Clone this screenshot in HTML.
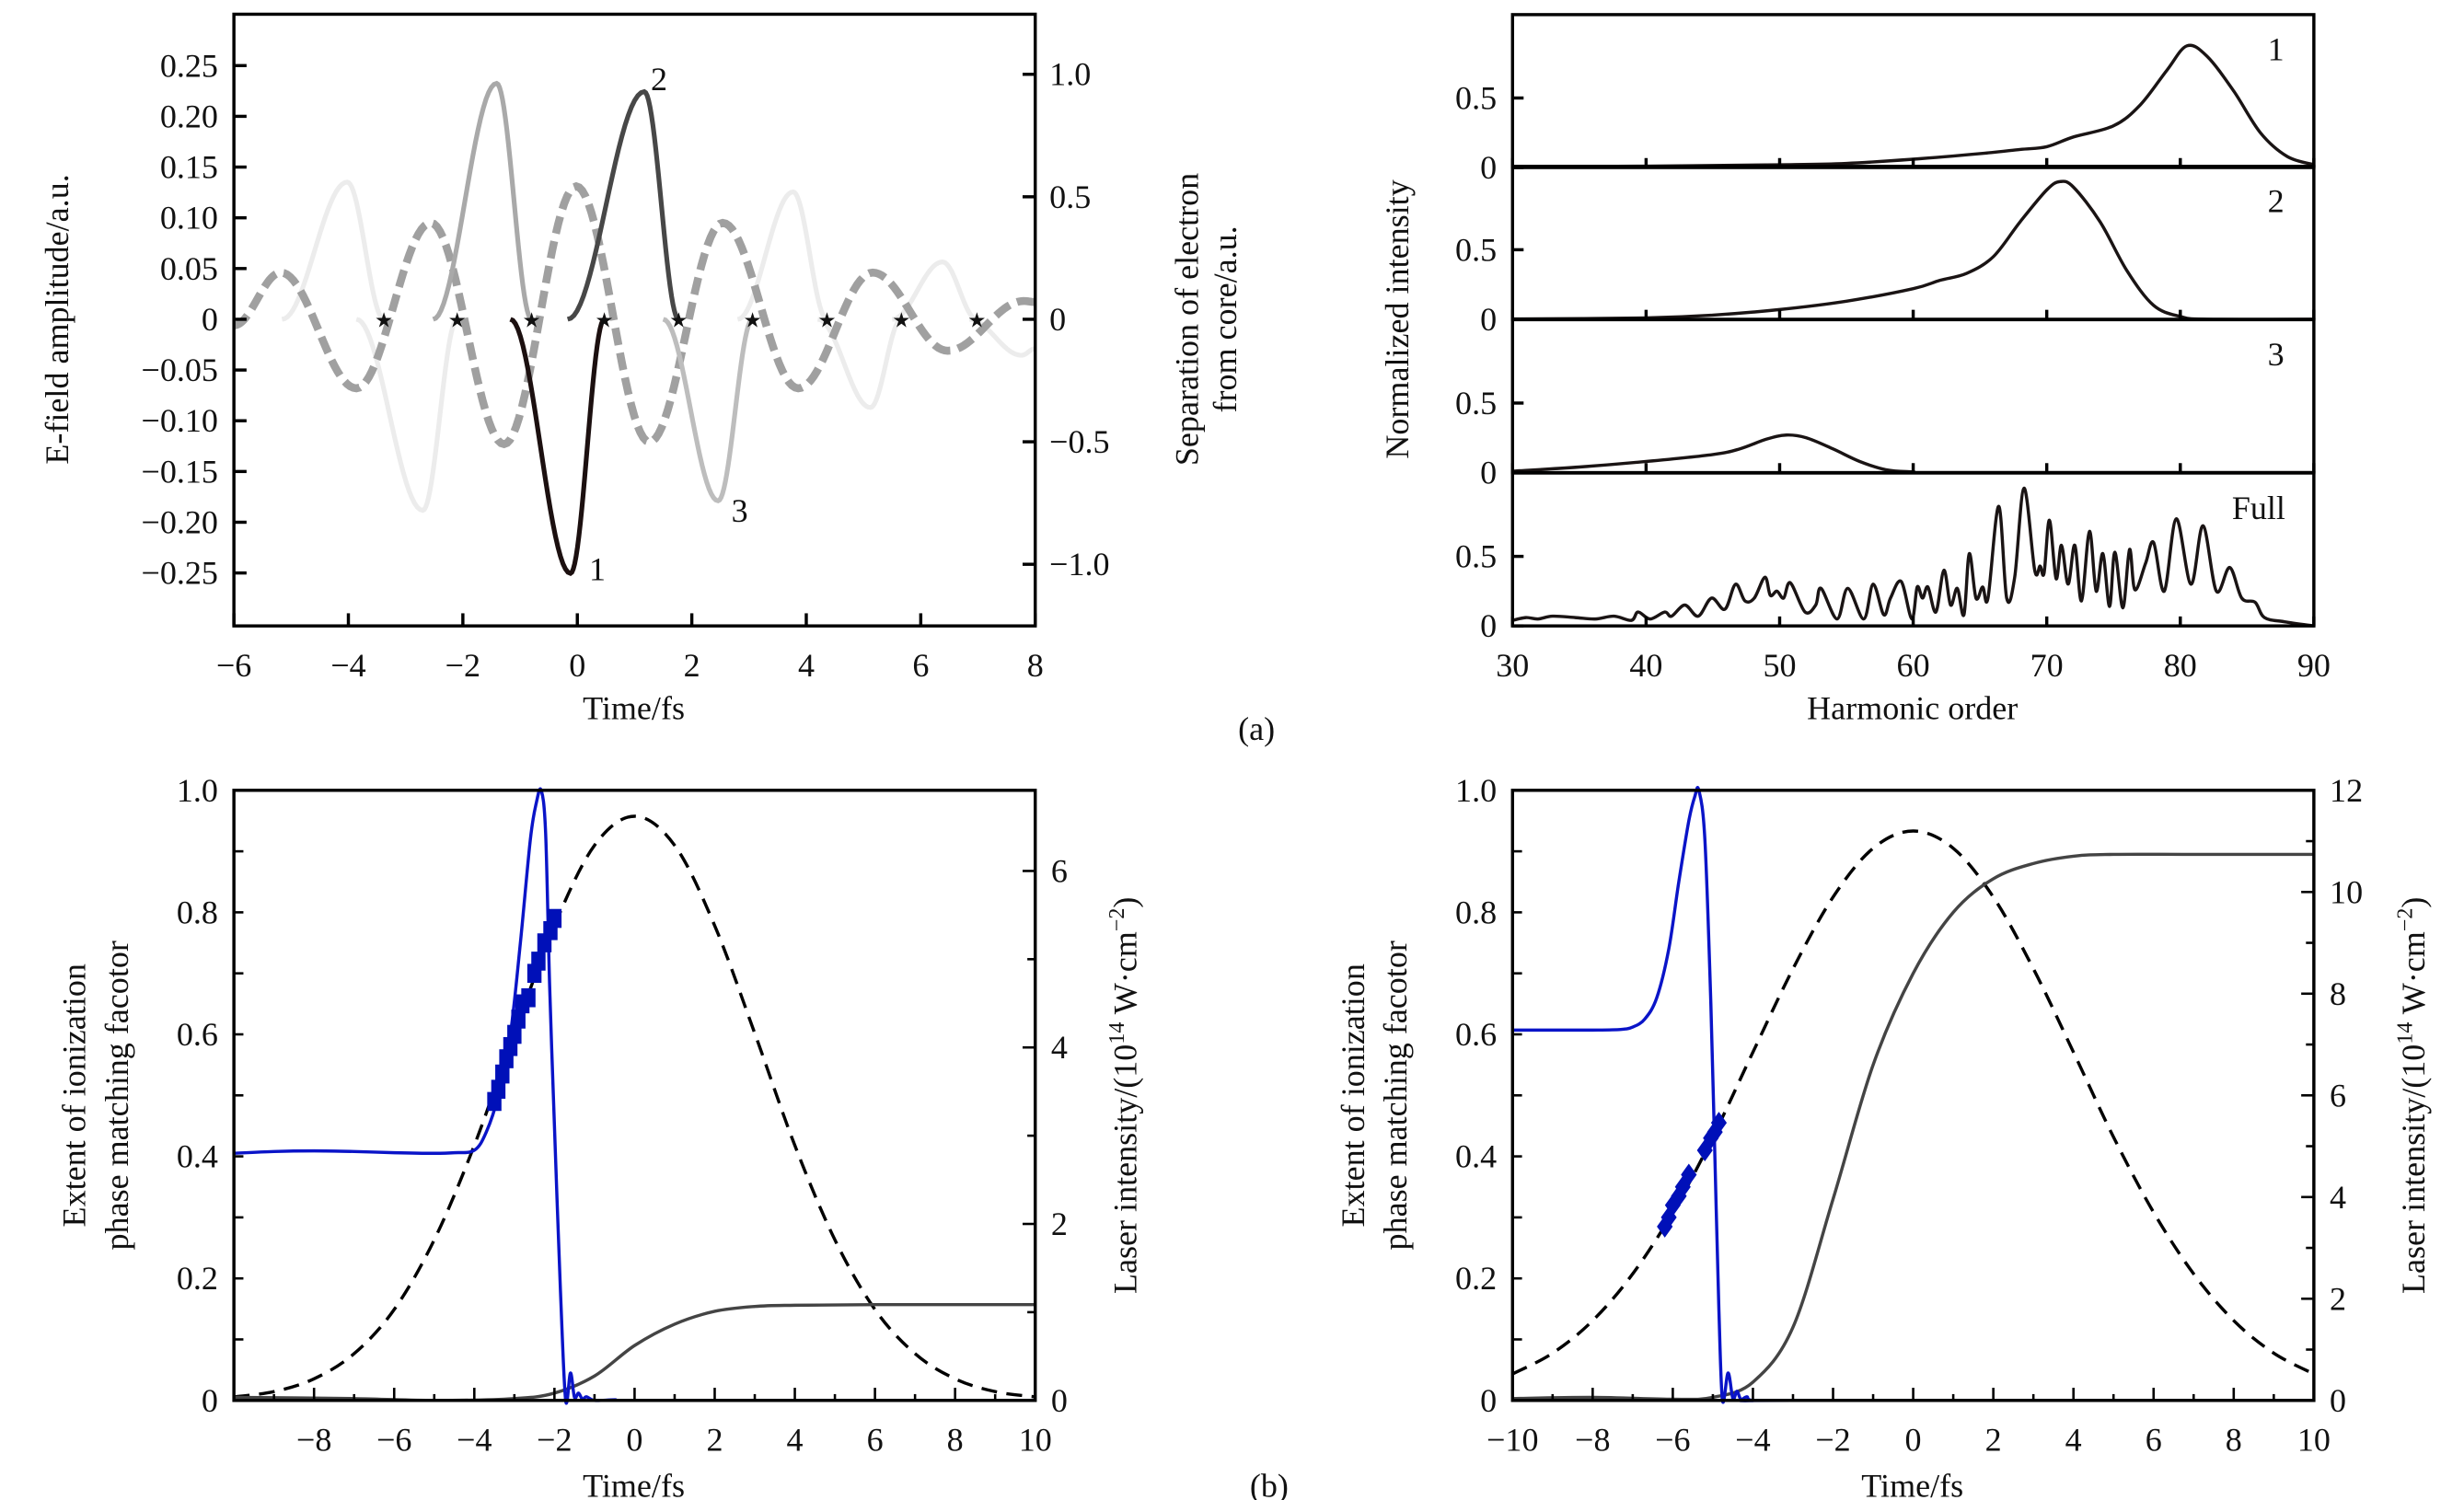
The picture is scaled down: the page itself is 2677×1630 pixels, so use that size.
<!DOCTYPE html>
<html><head><meta charset="utf-8">
<style>
html,body{margin:0;padding:0;background:#fff;}
svg{display:block;}
text{font-family:"Liberation Serif",serif;fill:#111;}
</style></head>
<body>
<svg id="chart" xmlns="http://www.w3.org/2000/svg" width="2677" height="1630" viewBox="0 0 1559 949" preserveAspectRatio="none">
<rect x="0" y="0" width="1559" height="949" fill="#fff"/>
<g id="static" font-size="21">
  <text transform="rotate(-90 43 202)" x="43" y="202" text-anchor="middle">E-field amplitude/a.u.</text>
  <text transform="rotate(-90 758 202)" x="758" y="202" text-anchor="middle">Separation of electron</text>
  <text transform="rotate(-90 782 202)" x="782" y="202" text-anchor="middle">from core/a.u.</text>
  <text x="401" y="455" text-anchor="middle">Time/fs</text>
  <text x="795" y="468" text-anchor="middle">(a)</text>
  <text transform="rotate(-90 891 202)" x="891" y="202" text-anchor="middle">Normalized intensity</text>
  <text x="1210" y="455" text-anchor="middle">Harmonic order</text>
  <text transform="rotate(-90 54 693)" x="54" y="693" text-anchor="middle">Extent of ionization</text>
  <text transform="rotate(-90 81 693)" x="81" y="693" text-anchor="middle">phase matching facotor</text>
  <text transform="rotate(-90 719 693)" x="719" y="693" text-anchor="middle">Laser intensity/(10<tspan font-size="14" dy="-8">14</tspan><tspan dy="8"> W·cm</tspan><tspan font-size="14" dy="-8">−2</tspan><tspan dy="8">)</tspan></text>
  <text x="401" y="947" text-anchor="middle">Time/fs</text>
  <text x="803" y="947" text-anchor="middle">(b)</text>
  <text transform="rotate(-90 863 693)" x="863" y="693" text-anchor="middle">Extent of ionization</text>
  <text transform="rotate(-90 890 693)" x="890" y="693" text-anchor="middle">phase matching facotor</text>
  <text transform="rotate(-90 1534 693)" x="1534" y="693" text-anchor="middle">Laser intensity/(10<tspan font-size="14" dy="-8">14</tspan><tspan dy="8"> W·cm</tspan><tspan font-size="14" dy="-8">−2</tspan><tspan dy="8">)</tspan></text>
  <text x="1210" y="947" text-anchor="middle">Time/fs</text>
</g>
</svg>
<script>
// ---------- Data: panel (a) left ----------
const fieldT = [-6,-5.18,-3.86,-2.56,-1.28,-0.02,1.26,2.54,3.86,5.16,6.47,7.8,8];
const fieldV = [-0.006,0.046,-0.068,0.095,-0.123,0.131,-0.121,0.095,-0.068,0.046,-0.031,0.018,0.017];
const lightTrajT = [[-5.16,-4.02,-3.38],[-3.86,-2.7,-2.1],[2.8,3.77,4.36],[4.2,5.12,5.66],[5.5,6.38,6.98],[6.85,7.76,8]];
const lightTrajV = [[0,0.56,0],[0,-0.78,0],[0,0.52,0],[0,-0.36,0],[0,0.234,0],[0,-0.147,-0.12]];
const trajMidT = [-2.52,-1.41,-0.8];   const trajMidV = [0,0.963,0];
const traj1T = [-1.17,-0.12,0.47];     const traj1V = [0,-1.037,0];
const traj2T = [-0.17,1.17,1.77];      const traj2V = [0,0.929,0];
const traj3T = [1.5,2.46,3.06];        const traj3V = [0,-0.741,0];
const starT = [-3.38,-2.1,-0.8,0.47,1.77,3.06,4.36,5.66,6.98];
const aXTicks = [-6,-4,-2,0,2,4,6,8];
const aLeftTicks = [0.25,0.2,0.15,0.1,0.05,0,-0.05,-0.1,-0.15,-0.2,-0.25];
const aLeftLabels = ["0.25","0.20","0.15","0.10","0.05","0","−0.05","−0.10","−0.15","−0.20","−0.25"];
const aRightTicks = [1,0.5,0,-0.5,-1];
const aRightLabels = ["1.0","0.5","0","−0.5","−1.0"];
// ---------- Data: spectra ----------
const specNames = ["1","2","3","Full"];
const spec1H = [30,40,50,55,60,65,68,70,72,75,77,79,80.5,82,84,86,88,90];
const spec1V = [0.005,0.01,0.02,0.03,0.06,0.1,0.13,0.15,0.22,0.3,0.45,0.7,0.875,0.8,0.55,0.25,0.08,0.02];
const spec2H = [30,40,45,50,55,60,62,64,66,68,70,71,72,74,76,78,80,82,90];
const spec2V = [0.002,0.01,0.03,0.07,0.13,0.22,0.28,0.33,0.45,0.7,0.93,0.99,0.95,0.7,0.35,0.1,0.02,0,0];
const spec3H = [30,35,40,45,47,49,50.5,52,54,56,58,60,62,90];
const spec3V = [0.01,0.04,0.08,0.13,0.17,0.24,0.27,0.25,0.17,0.08,0.02,0.005,0,0];
const specFH = [30,31,31.9,33,34.7,36.2,37.6,38.9,39.4,40.3,41.4,41.9,42.9,43.9,44.9,45.9,46.7,47.4,48.1,48.9,49.3,49.8,50.3,50.8,51.9,52.7,53.1,54.3,55.1,56.3,57,57.8,58.3,59.1,59.9,60.3,60.7,61.1,61.7,62.3,62.8,63.3,63.8,64.2,64.7,65.2,65.6,66.4,67,67.6,68.3,69.1,69.5,69.8,70.2,70.7,71.1,71.6,72.1,72.6,73.2,73.7,74.2,74.7,75.1,75.7,76.2,76.6,77.4,78,78.8,79.7,80.8,81.7,82.7,83.7,84.6,85.6,86.3,87.8,90];
const specFV = [0.04,0.06,0.05,0.07,0.06,0.05,0.07,0.04,0.1,0.05,0.1,0.07,0.15,0.07,0.2,0.12,0.3,0.18,0.2,0.35,0.22,0.25,0.2,0.31,0.1,0.15,0.27,0.05,0.27,0.05,0.3,0.08,0.2,0.32,0.05,0.28,0.2,0.28,0.1,0.4,0.15,0.27,0.08,0.52,0.2,0.28,0.2,0.86,0.2,0.35,0.99,0.4,0.43,0.38,0.76,0.34,0.58,0.3,0.58,0.18,0.68,0.25,0.52,0.14,0.53,0.13,0.55,0.26,0.45,0.6,0.25,0.77,0.3,0.72,0.25,0.42,0.2,0.17,0.06,0.03,0];
const specXTicks = [30,40,50,60,70,80,90];
// ---------- Data: panel (b) left ----------
const bLaserT = [-10,-9,-8,-7,-6,-5,-4,-3,-2,-1,0,1,2,3,4,5,6,7,8,9,10];
const bLeftLaser = [0.04,0.1,0.245,0.53,1.03,1.82,2.89,4.16,5.38,6.29,6.62,6.29,5.38,4.16,2.89,1.82,1.03,0.53,0.245,0.1,0.04];
const bLeftBlueT = [-10,-9,-8,-7,-6,-5,-4.5,-4,-3.7,-3.4,-3.1,-2.85,-2.6,-2.45,-2.33,-2.22,-2.12,-2.0,-1.85,-1.72,-1.6,-1.5,-1.4,-1.3,-1.2,-1,-0.5,0,5,10];
const bLeftBlueV = [0.405,0.408,0.409,0.408,0.406,0.405,0.406,0.41,0.44,0.5,0.6,0.75,0.92,0.98,1.0,0.93,0.68,0.45,0.18,0,0.045,0.005,0.012,0.002,0.006,0,0.001,0,0,0];
const bLeftGrayT = [-10,-7,-5,-3,-2,-1,0,1,2,3,4,6,10];
const bLeftGrayV = [0.005,0.003,0,0.003,0.012,0.04,0.09,0.125,0.146,0.154,0.156,0.157,0.157];
const bLeftSqT = [-3.5,-3.4,-3.3,-3.2,-3.1,-3.0,-2.9,-2.8,-2.65,-2.5,-2.4,-2.25,-2.1,-2.0];
const bLeftSqV = [0.49,0.51,0.535,0.56,0.58,0.6,0.625,0.65,0.66,0.7,0.72,0.75,0.77,0.79];
// ---------- Data: panel (b) right ----------
const bRightLaser = [0.52,0.93,1.57,2.49,3.7,5.18,6.85,8.49,9.9,10.86,11.2,10.86,9.9,8.49,6.85,5.18,3.7,2.49,1.57,0.93,0.52];
const bRightBlueT = [-10,-9,-8,-7.3,-7.0,-6.7,-6.4,-6.1,-5.85,-5.6,-5.45,-5.35,-5.2,-5.05,-4.95,-4.85,-4.76,-4.62,-4.5,-4.4,-4.3,-4.15,-4,-3,10];
const bRightBlueV = [0.607,0.607,0.607,0.608,0.612,0.625,0.66,0.74,0.85,0.95,0.99,1.0,0.92,0.65,0.4,0.15,0,0.045,0.003,0.015,0.002,0.006,0,0,0];
const bRightGrayT = [-10,-8,-6,-5,-4,-3,-2,-1,0,1,2,3,4,5,7,10];
const bRightGrayV = [0.003,0.005,0.002,0.005,0.03,0.12,0.33,0.55,0.7,0.8,0.855,0.88,0.892,0.895,0.895,0.895];
const bRightDiaT = [-6.2,-6.1,-6.0,-5.85,-5.75,-5.6,-5.2,-5.05,-4.95,-4.85];
const bRightDiaV = [0.285,0.3,0.32,0.335,0.35,0.37,0.41,0.43,0.44,0.455];
const bXTicksL = [-8,-6,-4,-2,0,2,4,6,8,10];
const bXTicksR = [-10,-8,-6,-4,-2,0,2,4,6,8,10];
const bLeftTicks = [0,0.2,0.4,0.6,0.8,1.0];
const bLeftLabels = ["0","0.2","0.4","0.6","0.8","1.0"];
const bRightTicksL = [0,2,4,6];
const bRightTicksR = [0,2,4,6,8,10,12];

const NS = "http://www.w3.org/2000/svg";
const svg = document.getElementById('chart');
const FS = 21;
function add(parent, tag, attrs){
  const el = document.createElementNS(NS, tag);
  for (const k in attrs) el.setAttribute(k, attrs[k]);
  parent.appendChild(el);
  return el;
}
function crPath(pts){
  let d = "M" + pts[0][0].toFixed(2) + "," + pts[0][1].toFixed(2);
  for (let i = 0; i < pts.length - 1; i++){
    const p0 = pts[Math.max(0,i-1)], p1 = pts[i], p2 = pts[i+1], p3 = pts[Math.min(pts.length-1,i+2)];
    const c1x = p1[0] + (p2[0]-p0[0])/6, c1y = p1[1] + (p2[1]-p0[1])/6;
    const c2x = p2[0] - (p3[0]-p1[0])/6, c2y = p2[1] - (p3[1]-p1[1])/6;
    d += " C" + c1x.toFixed(2)+","+c1y.toFixed(2)+" "+c2x.toFixed(2)+","+c2y.toFixed(2)+" "+p2[0].toFixed(2)+","+p2[1].toFixed(2);
  }
  return d;
}
function cosPath(ts, vs, X, Y){
  let d = "";
  for (let i = 0; i < ts.length - 1; i++){
    for (let k = 0; k <= 24; k++){
      if (i > 0 && k === 0) continue;
      const s = k/24;
      const t = ts[i] + (ts[i+1]-ts[i])*s;
      const v = vs[i] + (vs[i+1]-vs[i])*(1-Math.cos(Math.PI*s))/2;
      d += (d ? " L" : "M") + X(t).toFixed(2) + "," + Y(v).toFixed(2);
    }
  }
  return d;
}
function txt(parent, x, y, s, anchor, size){
  const el = add(parent, 'text', {x:x, y:y, 'text-anchor':anchor || 'middle', 'font-size': size || FS});
  el.textContent = s;
  return el;
}

// ================= Panel (a) left =================
const XA = t => 148 + (t+6)*507/14;
const YAL = v => 202 - v*642;
const YAR = v => 202 - v*155;
const gA = add(svg, 'g', {});


const clipA = add(svg, 'clipPath', {id:'clipA'});
add(clipA, 'rect', {x:148, y:9, width:507, height:387});
const gAc = add(gA, 'g', {'clip-path':'url(#clipA)'});
lightTrajT.forEach((ts, i) => {
  const p = add(gAc, 'path', {d: cosPath(ts, lightTrajV[i], XA, YAR), fill:'none', stroke:'#ececec', 'stroke-width':3});
  
  
});
const fieldPath = add(gAc, 'path', {d: cosPath(fieldT, fieldV, XA, YAL), fill:'none', stroke:'#a0a0a0', 'stroke-width':5, 'stroke-dasharray':'11 5'});


const tm = add(gAc, 'path', {d: cosPath(trajMidT, trajMidV, XA, YAR), fill:'none', stroke:'#a9a9a9', 'stroke-width':3});


const t3 = add(gAc, 'path', {d: cosPath(traj3T, traj3V, XA, YAR), fill:'none', stroke:'#bdbdbd', 'stroke-width':3});


const t2 = add(gAc, 'path', {d: cosPath(traj2T, traj2V, XA, YAR), fill:'none', stroke:'#474747', 'stroke-width':3});


const t1 = add(gAc, 'path', {d: cosPath(traj1T, traj1V, XA, YAR), fill:'none', stroke:'#1c1010', 'stroke-width':3});


starT.forEach(t => {
  const s = txt(gA, XA(t), YAL(0)+5, '★', 'middle', 13);
  
  
});
const lab2 = txt(gA, 417, 57, '2');


const lab1 = txt(gA, 378, 367, '1');


const lab3 = txt(gA, 468, 330, '3');


const frA = add(gA, 'rect', {x:148, y:9, width:507, height:387, fill:'none', stroke:'#000', 'stroke-width':2});


aXTicks.forEach(t => {
  add(gA, 'line', {x1:XA(t), x2:XA(t), y1:396, y2:388, stroke:'#000', 'stroke-width':2});
  const l = txt(gA, XA(t), 428, t < 0 ? '−' + (-t) : String(t));
  
  
});
aLeftTicks.forEach((v, i) => {
  add(gA, 'line', {x1:148, x2:156, y1:YAL(v), y2:YAL(v), stroke:'#000', 'stroke-width':2});
  const l = txt(gA, 138, YAL(v)+7, aLeftLabels[i], 'end');
  
  
});
aRightTicks.forEach((v, i) => {
  add(gA, 'line', {x1:655, x2:647, y1:YAR(v), y2:YAR(v), stroke:'#000', 'stroke-width':2});
  const l = txt(gA, 664, YAR(v)+7, aRightLabels[i], 'start');
  
  
});

// ================= Spectra =================
const XS = h => 957 + (h-30)*507/60;
const specBottoms = [106,202,299,396];
const specH = [spec1H, spec2H, spec3H, specFH];
const specV = [spec1V, spec2V, spec3V, specFV];
const gS = add(svg, 'g', {});


specBottoms.forEach((b, i) => {
  const YS = v => b - v*88;
  const pts = specH[i].map((h, j) => [XS(h), YS(specV[i][j])]);
  const p = add(gS, 'path', {d: crPath(pts), fill:'none', stroke:'#1a1414', 'stroke-width':2});
  
  
  const top = b - 96.75;
  const fr = add(gS, 'rect', {x:957, y:top, width:507, height:96.75, fill:'none', stroke:'#000', 'stroke-width':2});
  
  
  specXTicks.forEach(h => add(gS, 'line', {x1:XS(h), x2:XS(h), y1:b, y2:b-6, stroke:'#000', 'stroke-width':2}));
  [0, 0.5].forEach(v => {
    add(gS, 'line', {x1:957, x2:964, y1:YS(v), y2:YS(v), stroke:'#000', 'stroke-width':2});
    const l = txt(gS, 947, YS(v)+7, v === 0 ? '0' : '0.5', 'end');
    
    
  });
  const nm = txt(gS, i === 3 ? 1446 : 1440, top + 29, specNames[i], i === 3 ? 'end' : 'middle');
  
  
});
specXTicks.forEach(h => {
  const l = txt(gS, XS(h), 428, String(h));
  
  
});

// ================= Panel (b) =================
function panelB(x0, XT, laserV, rightMax, rightTicks, blueT, blueV, grayT, grayV, markT, markV, diamond, name){
  const X = t => x0 + (t+10)*507/20;
  const YL = v => 886 - v*386;
  const YR = v => 886 - v*386/rightMax;
  const g = add(svg, 'g', {});
  
  
  const las = add(g, 'path', {d: crPath(bLaserT.map((t,i) => [X(t), YR(laserV[i])])), fill:'none', stroke:'#000', 'stroke-width':2, 'stroke-dasharray':'10 6'});
  
  
  const gr = add(g, 'path', {d: crPath(grayT.map((t,i) => [X(t), YL(grayV[i])])), fill:'none', stroke:'#444', 'stroke-width':2});
  
  
  const bl = add(g, 'path', {d: crPath(blueT.map((t,i) => [X(t), YL(blueV[i])])), fill:'none', stroke:'#0a14c8', 'stroke-width':2});
  
  
  markT.forEach((t, i) => {
    const cx = X(t), cy = YL(markV[i]);
    let m;
    if (diamond) m = add(g, 'path', {d:`M${cx},${cy-7} L${cx+5},${cy} L${cx},${cy+7} L${cx-5},${cy} Z`, fill:'#0010b8'});
    else m = add(g, 'rect', {x:cx-4.5, y:cy-6, width:9, height:12, fill:'#0010b8'});
    
    
  });
  const fr = add(g, 'rect', {x:x0, y:500, width:507, height:386, fill:'none', stroke:'#000', 'stroke-width':2});
  
  
  for (let t = -9; t <= 9; t++) add(g, 'line', {x1:X(t), x2:X(t), y1:886, y2: t % 2 === 0 ? 878 : 882, stroke:'#000', 'stroke-width':1.5});
  XT.forEach(t => {
    const l = txt(g, X(t), 918, t < 0 ? '−' + (-t) : String(t));
    
    
  });
  for (let k = 1; k < 10; k++) add(g, 'line', {x1:x0, x2:x0+6, y1:YL(k/10), y2:YL(k/10), stroke:'#000', 'stroke-width':1.5});
  bLeftTicks.forEach((v, i) => {
    const l = txt(g, x0-10, YL(v)+7, bLeftLabels[i], 'end');
    
    
  });
  for (let k = 1; k < rightMax; k++) add(g, 'line', {x1:x0+507, x2:x0+507-(k%2===0?8:5), y1:YR(k), y2:YR(k), stroke:'#000', 'stroke-width':1.5});
  rightTicks.forEach(v => {
    const l = txt(g, x0+517, YR(v)+7, String(v), 'start');
    
    
  });
}
panelB(148, bXTicksL, bLeftLaser, 6.914, bRightTicksL, bLeftBlueT, bLeftBlueV, bLeftGrayT, bLeftGrayV, bLeftSqT, bLeftSqV, false, 'panel-b-left');
panelB(957, bXTicksR, bRightLaser, 12, bRightTicksR, bRightBlueT, bRightBlueV, bRightGrayT, bRightGrayV, bRightDiaT, bRightDiaV, true, 'panel-b-right');
</script>
</body></html>
